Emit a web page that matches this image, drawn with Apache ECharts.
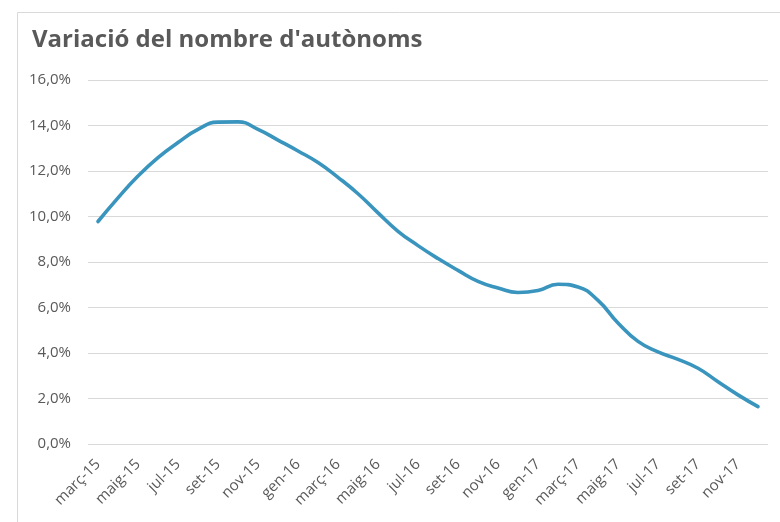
<!DOCTYPE html>
<html>
<head>
<meta charset="utf-8">
<script src="https://cdn.jsdelivr.net/npm/echarts@6/dist/echarts.min.js"></script>
<style>
html,body{margin:0;padding:0;background:#fff;}
#c{width:780px;height:522px;}
</style>
</head>
<body>
<div id="c"></div>
<script>
const categories = [
  "març-15","abr-15","maig-15","juny-15","jul-15","ag-15","set-15","oct-15","nov-15","des-15",
  "gen-16","febr-16","març-16","abr-16","maig-16","juny-16","jul-16","ag-16","set-16","oct-16","nov-16","des-16",
  "gen-17","febr-17","març-17","abr-17","maig-17","juny-17","jul-17","ag-17","set-17","oct-17","nov-17","des-17"
];
const values = [
  9.78, 10.82, 11.78, 12.59, 13.25, 13.83, 14.15, 14.16, 13.83, 13.36,
  12.88, 12.37, 11.72, 11.0, 10.16, 9.35, 8.72, 8.15, 7.63, 7.15, 6.86, 6.66,
  6.75, 7.02, 6.9, 6.31, 5.32, 4.51, 4.05, 3.72, 3.33, 2.74, 2.16, 1.64
];
const yTicks = {min: 0, max: 16, interval: 2};

const chart = echarts.init(document.getElementById('c'), null, {renderer: 'canvas'});
const fmt = v => v.toFixed(1).replace('.', ',') + '%';
chart.setOption({
  animation: false,
  backgroundColor: '#fff',
  graphic: [{
    type: 'rect', left: 15, top: 10,
    shape: {width: 800, height: 560},
    style: {fill: 'none', stroke: '#d9d9d9', lineWidth: 1}
  }],
  title: {
    text: "Variació del nombre d'autònoms",
    left: 27, top: 23,
    textStyle: {fontFamily: 'Open Sans', fontWeight: 'bold', fontSize: 24, color: '#595959'}
  },
  grid: {left: 88, right: 12, top: 80, bottom: 78},
  xAxis: {
    type: 'category',
    data: categories,
    boundaryGap: true,
    axisLine: {show: false},
    axisTick: {show: false},
    axisLabel: {
      interval: 1, rotate: 45, margin: 18,
      fontFamily: 'Open Sans', fontSize: 15, color: '#595959'
    }
  },
  yAxis: {
    type: 'value',
    min: yTicks.min, max: yTicks.max, interval: yTicks.interval,
    axisLine: {show: false},
    axisTick: {show: false},
    splitLine: {lineStyle: {color: '#d9d9d9', width: 1}},
    axisLabel: {
      formatter: fmt, margin: 17,
      fontFamily: 'Open Sans', fontSize: 15, color: '#595959'
    }
  },
  series: [{
    type: 'line',
    data: values,
    smooth: 0.5,
    showSymbol: false,
    lineStyle: {color: '#3a95be', width: 3.6, cap: 'round'}
  }]
});
</script>
</body>
</html>
